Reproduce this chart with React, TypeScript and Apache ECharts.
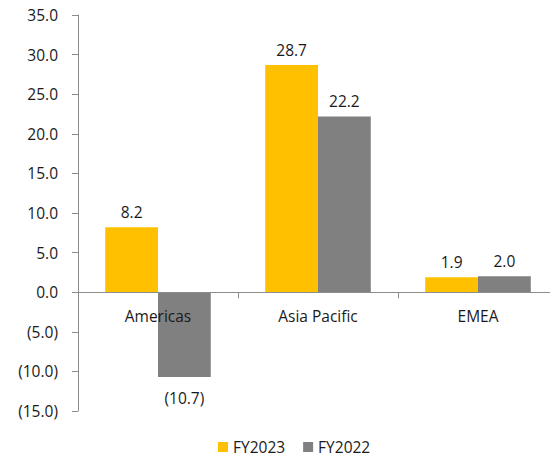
import React, { useEffect, useRef } from "react";
import * as echarts from "echarts";

const categories = ["Americas", "Asia Pacific", "EMEA"];
const fy2023 = [8.2, 28.7, 1.9];
const fy2022 = [-10.7, 22.2, 2.0];
const seriesNames = ["FY2023", "FY2022"];
const colors = ["#FFC000", "#808080"];

const fmt = (v: number) => (v < 0 ? `(${Math.abs(v).toFixed(1)})` : v.toFixed(1));
const FONT = "'Open Sans', 'Noto Sans', sans-serif";
const FS = 15.5;

const toData = (arr: number[]) =>
  arr.map((v) => ({
    value: v,
    label: v < 0 ? { position: "bottom", distance: 13 } : { position: "top", distance: 7 },
  }));

export default function App() {
  const ref = useRef<HTMLDivElement>(null);
  useEffect(() => {
    if (!ref.current) return;
    const chart = echarts.init(ref.current, undefined, { renderer: "svg" });
    chart.setOption({
      animation: false,
      textStyle: { fontFamily: FONT },
      grid: {
        left: 78,
        top: 15,
        width: 480,
        height: 396,
        containLabel: false,
        outerBoundsMode: "none",
      },
      legend: {
        left: 213,
        top: 434,
        itemWidth: 10,
        itemHeight: 10,
        itemGap: 18,
        icon: "rect",
        textStyle: { fontFamily: FONT, fontSize: FS, color: "#1a1a1a" },
        data: seriesNames,
      },
      xAxis: {
        type: "category",
        data: categories,
        z: 5,
        axisLine: { show: true, onZero: true, lineStyle: { color: "#8c8c8c", width: 1 } },
        axisTick: { show: true, length: 6, alignWithLabel: false, lineStyle: { color: "#8c8c8c" } },
        axisLabel: { margin: -103, fontFamily: FONT, fontSize: FS, color: "#1a1a1a" },
        splitLine: { show: false },
      },
      yAxis: {
        type: "value",
        min: -15,
        max: 35,
        interval: 5,
        axisLine: { show: true, lineStyle: { color: "#8c8c8c", width: 1 } },
        axisTick: { show: true, length: 6, lineStyle: { color: "#8c8c8c" } },
        axisLabel: {
          margin: 20,
          fontFamily: FONT,
          fontSize: FS,
          color: "#1a1a1a",
          formatter: (v: number) => fmt(v),
        },
        splitLine: { show: false },
      },
      series: [
        {
          name: seriesNames[0],
          type: "bar",
          data: toData(fy2023),
          barGap: "0%",
          barCategoryGap: "34%",
          itemStyle: { color: colors[0] },
          label: {
            show: true,
            fontFamily: FONT,
            fontSize: FS,
            color: "#1a1a1a",
            formatter: (p: any) => fmt(p.value),
          },
        },
        {
          name: seriesNames[1],
          type: "bar",
          data: toData(fy2022),
          barGap: "0%",
          barCategoryGap: "34%",
          itemStyle: { color: colors[1] },
          label: {
            show: true,
            fontFamily: FONT,
            fontSize: FS,
            color: "#1a1a1a",
            formatter: (p: any) => fmt(p.value),
          },
        },
      ],
    });
    return () => chart.dispose();
  }, []);
  return (
    <div
      ref={ref}
      style={{ position: "fixed", left: 0, top: 0, width: 550, height: 458, background: "#fff" }}
    />
  );
}
